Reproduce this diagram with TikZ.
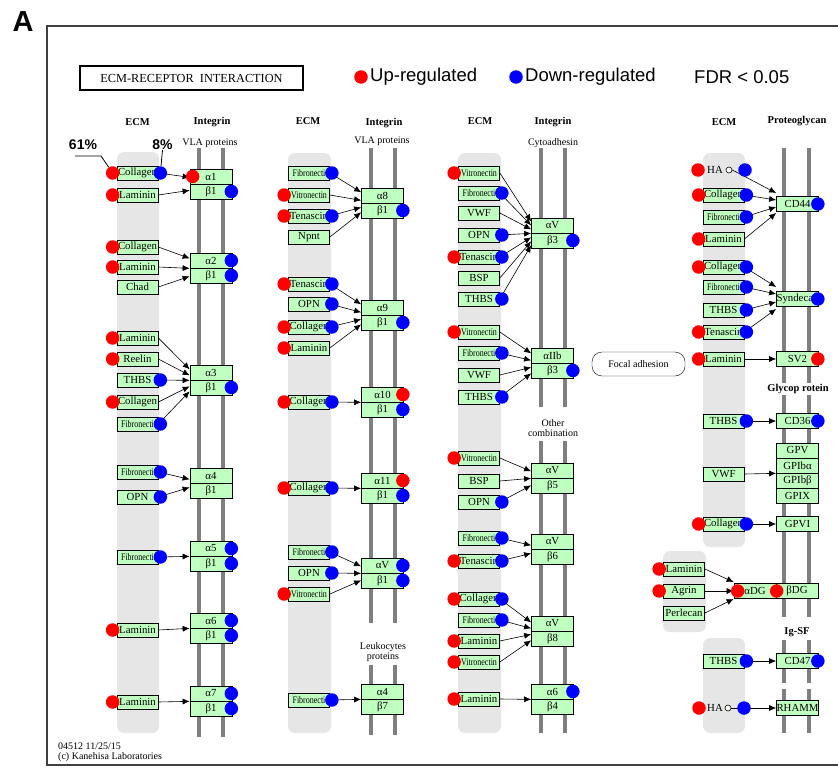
\documentclass[tikz,border=0pt]{standalone}
\usepackage{fontspec}
\usepackage{graphicx}
\setmainfont{Liberation Serif}
\newfontfamily\arialf{Liberation Sans}
\usetikzlibrary{arrows.meta,calc}
\definecolor{kgreen}{HTML}{BFFFBF}
\definecolor{bandc}{HTML}{E6E6E6}
\definecolor{barc}{HTML}{7F7F7F}
\definecolor{kred}{HTML}{FF0000}
\definecolor{kblue}{HTML}{0000FF}
\newcommand\sm[1]{\scalebox{0.8}[1]{\fontsize{10}{10}\selectfont #1}}
\newcommand\EN[4]{\node[ecm] (#1) at (#2,#3) {#4};}
\newcommand\IN[5]{\node[rec] (#1a) at (#2,#3-7.5) {#4};\node[rec] (#1b) at (#2,#3+7.5) {#5};}
\newcommand\RN[4]{\node[rec] (#1) at (#2,#3) {#4};}
\newcommand\AR[3]{\draw[arr] (#1.east) -- ([yshift={-(#3)*1pt}]#2a.south west);}
\newcommand\AQ[3]{\draw[arr] (#1.east) -- ([yshift={-(#3)*1pt}]#2.west);}
\newcommand\UL[1]{\node[upd] (#1-ul) at ([xshift=-4pt]#1.west) {};}
\newcommand\DR[1]{\node[dnd] (#1-dr) at ([xshift=2pt]#1.east) {};}
\newcommand\IDR[1]{\node[dnd] (#1-dr) at ([xshift=-1pt]#1.east) {};}
\newcommand\IUR[1]{\node[upd] (#1-ur) at ([xshift=-1pt]#1.east) {};}
\begin{document}
\begin{tikzpicture}[x=1pt,y=-1pt,
  ecm/.style={draw=black, line width=0.7pt, fill=kgreen, minimum width=41pt, minimum height=14pt, inner sep=0pt, font=\fontsize{10.8}{10.8}\selectfont},
  rec/.style={ecm, minimum width=42pt, minimum height=15pt},
  upd/.style={circle, fill=kred, draw=none, minimum size=13.5pt, inner sep=0pt},
  dnd/.style={circle, fill=kblue, draw=none, minimum size=13.5pt, inner sep=0pt},
  arr/.style={-{Latex[length=7pt,width=6pt]}, line width=0.6pt},
  bar/.style={line width=4pt, draw=barc},
  band/.style={fill=bandc, rounded corners=7pt},
  hdr/.style={font=\bfseries\fontsize{10.5}{11}\selectfont, inner sep=1pt},
  sub/.style={font=\fontsize{10}{10.5}\selectfont, align=center, inner sep=1pt},
  leg/.style={font=\arialf\fontsize{18.5}{19}\selectfont, anchor=west, inner sep=0pt}]
\useasboundingbox (0,0) rectangle (838,768);
% frame
\draw[line width=1.2pt, draw=black!75] (47,26) rectangle (860,765);
\node[font=\arialf\bfseries\fontsize{29}{29}\selectfont, inner sep=0pt] (lblA) at (23,22) {A};
% title and legend
\node[draw, line width=1.8pt, minimum width=223pt, minimum height=24pt, font=\fontsize{12.3}{12}\selectfont, inner sep=0pt] (title) at (191.5,78) {ECM-RECEPTOR\ \ INTERACTION};
\node[upd] (lu) at (361,77) {};
\node[leg] (lut) at (370,77) {Up-regulated};
\node[dnd] (ld) at (516,77) {};
\node[leg] (ldt) at (525,77) {Down-regulated};
\node[leg] (fdr) at (694,77) {FDR < 0.05};
% bands
\fill[band] (117,152) rectangle (159,733);
\fill[band] (288,153) rectangle (331,733);
\fill[band] (458,153) rectangle (501,733);
\fill[band] (703,153) rectangle (745,547);
\fill[band] (663,551) rectangle (706,632);
\fill[band] (703,638) rectangle (745,733);
% bars
\foreach \x in {199,223} {\draw[bar] (\x,148) -- (\x,737);}
\foreach \x in {371,395} {\draw[bar] (\x,148) -- (\x,623); \draw[bar] (\x,665) -- (\x,735);}
\foreach \x in {541,565} {\draw[bar] (\x,148) -- (\x,407); \draw[bar] (\x,441) -- (\x,733);}
\foreach \x in {784,809} {\draw[bar] (\x,148) -- (\x,617); \draw[bar] (\x,640) -- (\x,683); \draw[bar] (\x,689) -- (\x,733);}
% headers
\node[hdr] (hE1) at (137.5,122) {ECM};
\node[hdr] (hI1) at (212,122) {Integrin};
\node[sub] (hV1) at (210,143) {VLA proteins};
\node[hdr] (hE2) at (308,121) {ECM};
\node[hdr] (hI2) at (384,123) {Integrin};
\node[sub] (hV2) at (382,141) {VLA proteins};
\node[hdr] (hE3) at (480,121) {ECM};
\node[hdr] (hI3) at (553,122) {Integrin};
\node[sub] (hC3) at (553,143) {Cytoadhesin};
\node[hdr] (hE4) at (724,122) {ECM};
\node[hdr] (hP4) at (797,121) {Proteoglycan};
\node[sub] (leuk) at (383,652) {Leukocytes\\proteins};
\node[sub] (othc) at (553,428) {Other\\combination};
\node[hdr, fill=white] (glyc) at (798,389) {Glycop rotein};
\node[hdr, fill=white] (igsf) at (797,632) {Ig-SF};
\node[font=\arialf\bfseries\fontsize{14}{14}\selectfont, inner sep=0pt] (p61) at (83,145) {61\%};
\node[font=\arialf\bfseries\fontsize{14}{14}\selectfont, inner sep=0pt] (p8) at (162.5,145) {8\%};
\node[draw, rounded corners=10pt, minimum width=93pt, minimum height=24pt, font=\fontsize{10}{10}\selectfont] (fa) at (638.5,364) {Focal adhesion};
\node[anchor=west, align=left, font=\fontsize{10}{10.5}\selectfont, inner sep=0pt] (foot) at (58,752) {04512 11/25/15\\(c) Kanehisa Laboratories};
% ---- column 1
\EN{e1}{137.5}{173}{Collagen}
\EN{e2}{137.5}{195}{Laminin}
\EN{e3}{137.5}{247}{Collagen}
\EN{e4}{137.5}{267}{Laminin}
\EN{e5}{137.5}{287}{Chad}
\EN{e6}{137.5}{338}{Laminin}
\EN{e7}{137.5}{359}{Reelin}
\EN{e8}{137.5}{380}{THBS}
\EN{e9}{137.5}{402}{Collagen}
\EN{e10}{137.5}{424}{\sm{Fibronecti}}
\EN{e11}{137.5}{472}{\sm{Fibronecti}}
\EN{e12}{137.5}{497}{OPN}
\EN{e13}{137.5}{557}{\sm{Fibronecti}}
\EN{e14}{137.5}{630}{Laminin}
\EN{e15}{137.5}{702}{Laminin}
\IN{i1}{211}{184}{α1}{β1}
\IN{i2}{211}{268}{α2}{β1}
\IN{i3}{211}{380}{α3}{β1}
\IN{i4}{211}{483}{α4}{β1}
\IN{i5}{211}{556}{α5}{β1}
\IN{i6}{211}{628}{α6}{β1}
\IN{i7}{211}{701}{α7}{β1}
% ---- column 2
\EN{f1}{309}{173}{\sm{Fibronecti}}
\EN{f2}{309}{195}{\sm{Vitronectin}}
\EN{f3}{309}{216}{Tenascin}
\EN{f4}{309}{237}{Npnt}
\EN{f5}{309}{284}{Tenascin}
\EN{f6}{309}{304}{OPN}
\EN{f7}{309}{327}{Collagen}
\EN{f8}{309}{348}{Laminin}
\EN{f9}{309}{402}{Collagen}
\EN{f10}{309}{488}{Collagen}
\EN{f11}{309}{552}{\sm{Fibronecti}}
\EN{f12}{309}{573}{OPN}
\EN{f13}{309}{594}{\sm{Vitronectin}}
\EN{f14}{309}{700}{\sm{Fibronecti}}
\IN{j1}{382.5}{203}{α8}{β1}
\IN{j2}{382.5}{315}{α9}{β1}
\IN{j3}{382.5}{402}{α10}{β1}
\IN{j4}{382.5}{488}{α11}{β1}
\IN{j5}{382.5}{573}{αV}{β1}
\IN{j6}{382.5}{699}{α4}{β7}
% ---- column 3
\EN{g1}{479}{173}{\sm{Vitronectin}}
\EN{g2}{479}{193}{\sm{Fibronecti}}
\EN{g3}{479}{213}{VWF}
\EN{g4}{479}{235}{OPN}
\EN{g5}{479}{257}{Tenascin}
\EN{g6}{479}{278}{BSP}
\EN{g7}{479}{299}{THBS}
\EN{g8}{479}{332}{\sm{Vitronectin}}
\EN{g9}{479}{353}{\sm{Fibronecti}}
\EN{g10}{479}{375}{VWF}
\EN{g11}{479}{397}{THBS}
\EN{g12}{479}{458}{\sm{Vitronectin}}
\EN{g13}{479}{481}{BSP}
\EN{g14}{479}{502}{OPN}
\EN{g15}{479}{538}{\sm{Fibronecti}}
\EN{g16}{479}{561}{Tenascin}
\EN{g17}{479}{599}{Collagen}
\EN{g18}{479}{620}{\sm{Fibronecti}}
\EN{g19}{479}{641}{Laminin}
\EN{g20}{479}{662}{\sm{Vitronectin}}
\EN{g21}{479}{699}{Laminin}
\IN{k1}{552.5}{233}{αV}{β3}
\IN{k2}{552.5}{363}{αIIb}{β3}
\IN{k3}{552.5}{478}{αV}{β5}
\IN{k4}{552.5}{549}{αV}{β6}
\IN{k5}{552.5}{631}{αV}{β8}
\IN{k6}{552.5}{699}{α6}{β4}
% ---- column 4
\node[inner sep=0pt, font=\fontsize{10.8}{10.8}\selectfont] (h1) at (715,170) {HA};
\node[circle, draw, fill=white, line width=0.6pt, minimum size=6pt, inner sep=0pt] (h1c) at (729,170) {};
\EN{h2}{723.5}{195}{Collagen}
\EN{h3}{723.5}{217}{\sm{Fibronecti}}
\EN{h4}{723.5}{239}{Laminin}
\EN{h5}{723.5}{267}{Collagen}
\EN{h6}{723.5}{287}{\sm{Fibronecti}}
\EN{h7}{723.5}{310}{THBS}
\EN{h8}{723.5}{332}{Tenascin}
\EN{h9}{723.5}{359}{Laminin}
\EN{h10}{723.5}{421}{THBS}
\EN{h11}{723.5}{474}{VWF}
\EN{h12}{723.5}{524}{Collagen}
\EN{m1}{684}{569}{Laminin}
\EN{m2}{684}{591}{Agrin}
\EN{m3}{684}{613}{Perlecan}
\EN{h13}{723.5}{661}{THBS}
\node[inner sep=0pt, font=\fontsize{10.8}{10.8}\selectfont] (h14) at (715,708) {HA};
\node[circle, draw, fill=white, line width=0.6pt, minimum size=6pt, inner sep=0pt] (h14c) at (728,708) {};
\RN{r1}{797.5}{204}{CD44}
\RN{r2}{797.5}{299}{Syndecan}
\RN{r3}{797.5}{359}{SV2}
\RN{r4}{797.5}{421}{CD36}
\RN{r5}{797.5}{450.5}{GPV}
\RN{r6}{797.5}{465.5}{GPIbα}
\RN{r7}{797.5}{480.5}{GPIbβ}
\RN{r8}{797.5}{495.5}{GPIX}
\RN{r9}{797.5}{524}{GPVI}
\RN{r10a}{755}{591}{αDG}
\RN{r10b}{797}{591}{βDG}
\RN{r11}{797.5}{661}{CD47}
\RN{r12}{797.5}{708}{RHAMM}
% ---- arrows
\AR{e1}{i1}{-7} \AR{e2}{i1}{6}
\AR{e3}{i2}{-10} \AR{e4}{i2}{0} \AR{e5}{i2}{8}
\AR{e6}{i3}{-11} \AR{e7}{i3}{-5} \AR{e8}{i3}{0} \AR{e9}{i3}{6} \AR{e10}{i3}{11}
\AR{e11}{i4}{-4} \AR{e12}{i4}{4}
\AR{e13}{i5}{0} \AR{e14}{i6}{0} \AR{e15}{i7}{0}
\AR{f1}{j1}{-11} \AR{f2}{j1}{-3} \AR{f3}{j1}{4} \AR{f4}{j1}{9}
\AR{f5}{j2}{-11} \AR{f6}{j2}{-3} \AR{f7}{j2}{4} \AR{f8}{j2}{9}
\AR{f9}{j3}{0} \AR{f10}{j4}{0}
\AR{f11}{j5}{-7} \AR{f12}{j5}{0} \AR{f13}{j5}{7}
\AR{f14}{j6}{0}
\AR{g1}{k1}{-12} \AR{g2}{k1}{-8} \AR{g3}{k1}{-4} \AR{g4}{k1}{0} \AR{g5}{k1}{4} \AR{g6}{k1}{8} \AR{g7}{k1}{12}
\AR{g8}{k2}{-10} \AR{g9}{k2}{-3} \AR{g10}{k2}{4} \AR{g11}{k2}{10}
\AR{g12}{k3}{-7} \AR{g13}{k3}{0} \AR{g14}{k3}{7}
\AR{g15}{k4}{-4} \AR{g16}{k4}{4}
\AR{g17}{k5}{-9} \AR{g18}{k5}{-3} \AR{g19}{k5}{3} \AR{g20}{k5}{9}
\AR{g21}{k6}{0}
\AQ{h1c}{r1}{-11} \AQ{h2}{r1}{-4} \AQ{h3}{r1}{3} \AQ{h4}{r1}{9}
\AQ{h5}{r2}{-12} \AQ{h6}{r2}{-5} \AQ{h7}{r2}{3} \AQ{h8}{r2}{10}
\AQ{h9}{r3}{0} \AQ{h10}{r4}{0}
\draw[arr] (h11.east) -- (r6.south west);
\AQ{h12}{r9}{0}
\AQ{m1}{r10a}{-9} \AQ{m2}{r10a}{0} \AQ{m3}{r10a}{8}
\AQ{h13}{r11}{0} \AQ{h14c}{r12}{0}
% percent pointers
\coordinate (c61) at (75,156);
\coordinate (c61b) at (101,156);
% ---- dots
\UL{e1} \DR{e1} \UL{e2} \UL{e3} \UL{e4} \UL{e6} \UL{e7} \DR{e8} \UL{e9} \DR{e10}
\DR{e11} \DR{e12} \DR{e13} \UL{e14} \UL{e15}
\node[upd] (i1a-ul) at ([xshift=3pt]i1a.west) {};
\IDR{i1b} \IDR{i2a} \IDR{i2b} \IDR{i3b} \IDR{i5a} \IDR{i5b} \IDR{i6a} \IDR{i6b} \IDR{i7a} \IDR{i7b}
\DR{f1} \UL{f2} \UL{f3} \DR{f3} \UL{f5} \DR{f5} \DR{f6} \UL{f7} \DR{f7} \UL{f8}
\UL{f9} \DR{f9} \UL{f10} \DR{f10} \DR{f11} \DR{f12} \UL{f13} \DR{f14}
\IDR{j1b} \IDR{j2b} \IUR{j3a} \IDR{j3b} \IUR{j4a} \IDR{j4b} \IDR{j5a} \IDR{j5b}
\UL{g1} \DR{g2} \DR{g4} \UL{g5} \DR{g5} \DR{g7} \UL{g8} \DR{g9} \DR{g11} \UL{g12}
\DR{g14} \DR{g15} \UL{g16} \DR{g16} \UL{g17} \DR{g17} \DR{g18} \UL{g19} \UL{g20} \UL{g21}
\IDR{k1b} \IDR{k2b} \IDR{k6a}
\node[upd] (h1-ul) at (698,170) {};
\node[dnd] (h1-dr) at (745,170) {};
\UL{h2} \DR{h2} \DR{h3} \UL{h4} \UL{h5} \DR{h5} \DR{h6} \DR{h7} \UL{h8} \DR{h8} \UL{h9}
\DR{h10} \UL{h12} \DR{h12} \UL{m1} \UL{m2} \DR{h13}
\node[upd] (h14-ul) at (699,708) {};
\node[dnd] (h14-dr) at (744,708) {};
\IDR{r1} \IDR{r2} \IUR{r3} \IDR{r4} \IDR{r11}
\node[upd] (r10a-ul) at ([xshift=4pt]r10a.west) {};
\node[upd] (r10b-ul) at ([xshift=1pt]r10b.west) {};
% pointers from percentages
\draw[line width=0.8pt] (c61) -- (c61b) -- (e1-ul);
\draw[line width=0.8pt] (p8.south) -- (e1-dr);
\end{tikzpicture}
\end{document}
